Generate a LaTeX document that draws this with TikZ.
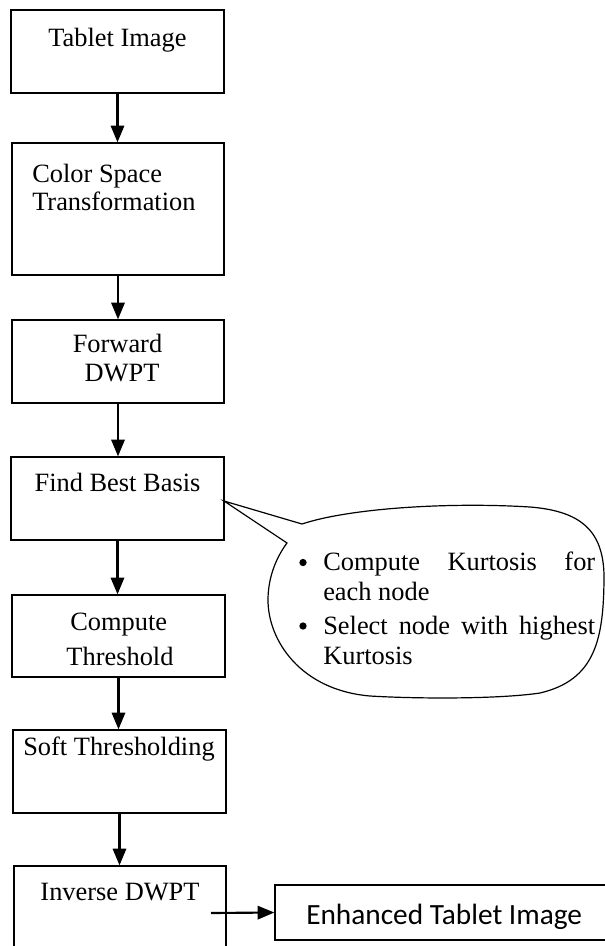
\documentclass[tikz,border=0pt]{standalone}
\usepackage{fontspec}
\setmainfont{Liberation Serif}
\newfontfamily\calib{Carlito}
\usetikzlibrary{arrows.meta}
\tikzset{
  box/.style={draw=black, line width=1pt, inner sep=0pt, fill=white},
  txt/.style={inner sep=0pt, anchor=base, font=\fontsize{19.8}{21}\selectfont},
  txtw/.style={inner sep=0pt, anchor=base west, font=\fontsize{19.8}{21}\selectfont},
  flow/.style={line width=1.6pt, -{Triangle[length=12.5pt,width=10pt]}},
  bubble/.style={draw=black, line width=0.9pt, fill=white},
  bul/.style={circle, fill=black, inner sep=0pt, minimum size=5.5pt}
}
\begin{document}
\begin{tikzpicture}[x=0.75pt,y=-0.75pt]
\useasboundingbox (0,0) rectangle (605,946);
\clip (0,0) rectangle (605,946);
\fill[white] (0,0) rectangle (605,946);
% boxes
\node[box, minimum width=159.75pt, minimum height=62.25pt] (b1) at (117.5,51.5) {};
\node[box, minimum width=159pt, minimum height=99pt] (b2) at (118,209) {};
\node[box, minimum width=159pt, minimum height=62.25pt] (b3) at (118,361.5) {};
\node[box, minimum width=159.75pt, minimum height=62.25pt] (b4) at (117.5,498.5) {};
\node[box, minimum width=159.75pt, minimum height=61.5pt] (b5) at (118.5,636) {};
\node[box, minimum width=159.75pt, minimum height=62.25pt] (b6) at (119.5,771.5) {};
\node[box, minimum width=159pt, minimum height=75pt] (b7) at (120,916) {};
\node[box, minimum width=258.75pt, minimum height=41.25pt] (enh) at (447.5,912.5) {};
% texts
\node[txt] (t1) at (117.5,46.7) {Tablet Image};
\node[txtw] (t2a) at (32,182.3) {Color Space};
\node[txtw] (t2b) at (32,210.7) {Transformation};
\node[txt] (t3a) at (117.5,352.7) {Forward};
\node[txt] (t3b) at (122,381.7) {DWPT};
\node[txt] (t4) at (117.5,491.7) {Find Best Basis};
\node[txt] (t5a) at (118.7,630.7) {Compute};
\node[txt] (t5b) at (120,665) {Threshold};
\node[txt] (t6) at (119,755.7) {Soft Thresholding};
\node[txt] (t7) at (120,900) {Inverse DWPT};
\node[inner sep=0pt, anchor=base west, font=\calib\fontsize{22}{24}\selectfont] (t8) at (306,924) {Enhanced Tablet Image};
% connectors
\draw[flow] (b1.south) -- (b1.south |- b2.north);
\draw[flow] (b2.south) -- (b2.south |- b3.north);
\draw[flow] (b3.south) -- (b3.south |- b4.north);
\draw[flow] (b4.south) -- (b4.south |- b5.north);
\draw[flow] (b5.south) -- (b5.south |- b6.north);
\draw[flow] (b6.south) -- (b6.south |- b7.north);
\coordinate (hs) at (211,913);
\draw[flow] (hs) -- (enh.west);
% callout
\coordinate (tip) at (224,501);
\draw[bubble] (tip) -- (302,524)
  .. controls (350,508) and (450,502) .. (530,507)
  .. controls (580,511) and (603,530) .. (604,575)
  .. controls (604,640) and (595,680) .. (540,693)
  .. controls (500,699) and (420,699) .. (370,696)
  .. controls (300,690) and (268,640) .. (268,600)
  .. controls (268,575) and (278,555) .. (287,543)
  -- cycle;
\node[bul] (bu1) at (303,562.5) {};
\node[txtw] (c1) at (323,570.7) {\makebox[204pt][s]{Compute Kurtosis for}};
\node[txtw] (c2) at (323,600) {each node};
\node[bul] (bu2) at (303,626) {};
\node[txtw] (c3) at (323,634) {\makebox[204pt][s]{Select node with highest}};
\node[txtw] (c4) at (323,664) {Kurtosis};
\end{tikzpicture}
\end{document}
